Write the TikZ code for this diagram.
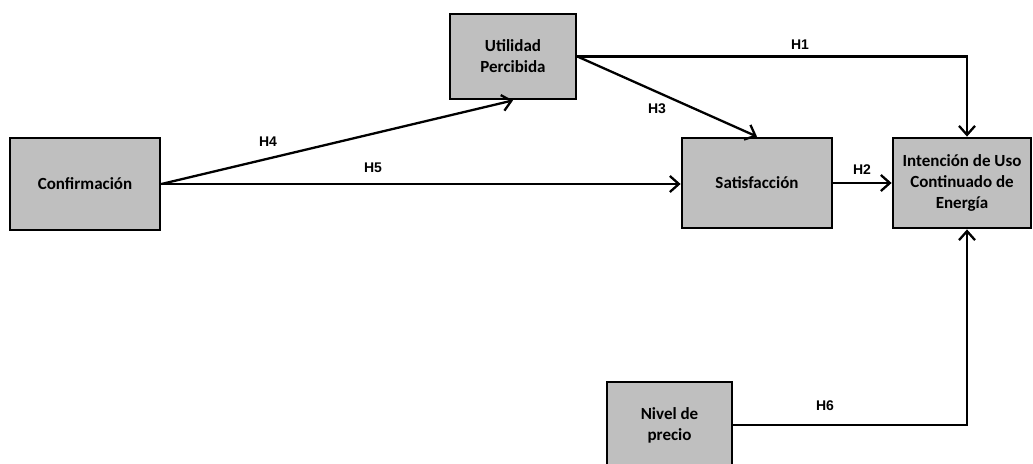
\documentclass[tikz,border=0pt]{standalone}
\usepackage{fontspec}
\setmainfont{Carlito}
\newfontfamily\hypfont{Liberation Sans}
\usetikzlibrary{arrows.meta}
\definecolor{boxgray}{HTML}{BFBFBF}

\begin{document}
\begin{tikzpicture}[x=1pt,y=-1pt]
	\useasboundingbox (0,0) rectangle (1033,463);
	\tikzset{link/.style={line width=2.3pt,-{Straight Barb[length=9pt,width=16pt]}}}
	\begin{scope}[every node/.style={draw,line width=2.8pt,fill=boxgray,align=center,inner sep=0pt,font=\fontsize{17}{21}\selectfont\bfseries}]
	\node[minimum width=150,minimum height=92] (conf) at (85,184) {Confirmación};
	\node[minimum width=126,minimum height=85] (util) at (513,56.5) {Utilidad\\Percibida};
	\node[minimum width=150,minimum height=90] (sat) at (757,183) {Satisfacción};
	\node[minimum width=138,minimum height=90] (int) at (962,183) {Intención de Uso\\Continuado de\\Energía};
	\node[minimum width=125,minimum height=86] (niv) at (669.5,425) {Nivel de\\precio};
	\end{scope}
	
	\begin{scope}[every node/.style={font=\hypfont\fontsize{14}{16}\selectfont\bfseries}]
	\node (h1) at (800,45) {H1};
	\node (h2) at (862,170) {H2};
	\node (h3) at (657,109) {H3};
	\node (h4) at (268,142) {H4};
	\node (h5) at (373,168) {H5};
	\node (h6) at (825,406) {H6};
	\end{scope}
	
	\coordinate (t1) at (967,56.5);
	\coordinate (t6) at (967,425);
	
	\draw [link] (conf.east) -- (util.south);
	\draw [link] (conf.east) -- (conf.east -| sat.west);
	\draw [link] (util.east) -- (sat.north);
	\draw [link] (util.east) -- (t1) -- (t1 |- int.north);
	\draw [link] (sat.east) -- (sat.east -| int.west);
	\draw [link] (niv.east) -- (t6) -- (t6 |- int.south);
\end{tikzpicture}
\end{document}
